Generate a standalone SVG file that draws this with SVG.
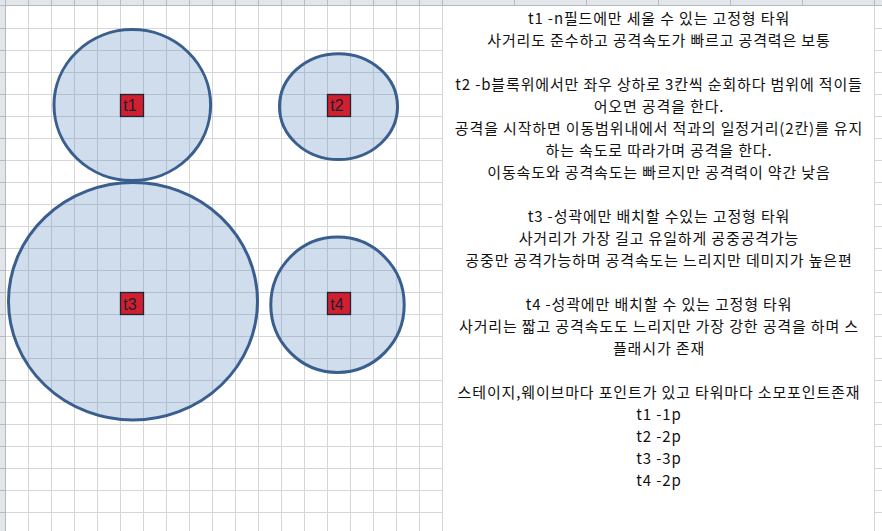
<svg xmlns="http://www.w3.org/2000/svg" width="882" height="531" viewBox="0 0 882 531">
<style>
.grid{stroke:#d6d6d6;stroke-width:1;fill:none}
.hdr{fill:#e2e5ea}
.hdrline{stroke:#b4bac2;stroke-width:1;fill:none}
.range{fill:#4f81bd;fill-opacity:0.27;stroke:#3a5f8e;stroke-width:3}
.tag{fill:#d21f30;stroke:#1b2535;stroke-width:1.3}
.tagtxt{font-family:"Liberation Sans",Arial,sans-serif;font-size:16px;fill:#1a1f2e}
.desc{font-family:"Noto Sans CJK KR","Noto Sans",sans-serif;font-size:15px;letter-spacing:0.85px;fill:#111;text-anchor:middle}
</style>
<rect x="0" y="0" width="882" height="531" fill="#ffffff"/>
<g id="grid">
<path class="grid" d="M28.5 6V531M51.5 6V531M74.5 6V531M97.5 6V531M120.5 6V531M143.5 6V531M166.5 6V531M189.5 6V531M212.5 6V531M235.5 6V531M258.5 6V531M281.5 6V531M304.5 6V531M327.5 6V531M350.5 6V531M373.5 6V531M396.5 6V531M419.5 6V531M442.5 6V531M874.5 6V531"/>
<path class="grid" d="M6 28.5H442.5M6 50.5H442.5M6 72.5H442.5M6 94.5H442.5M6 116.5H442.5M6 138.5H442.5M6 160.5H442.5M6 182.5H442.5M6 204.5H442.5M6 226.5H442.5M6 248.5H442.5M6 270.5H442.5M6 292.5H442.5M6 314.5H442.5M6 336.5H442.5M6 358.5H442.5M6 380.5H442.5M6 402.5H442.5M6 424.5H442.5M6 446.5H442.5M6 468.5H442.5M6 490.5H442.5M6 512.5H442.5"/>
<path class="grid" d="M874.5 28.5H882M874.5 50.5H882M874.5 72.5H882M874.5 94.5H882M874.5 116.5H882M874.5 138.5H882M874.5 160.5H882M874.5 182.5H882M874.5 204.5H882M874.5 226.5H882M874.5 248.5H882M874.5 270.5H882M874.5 292.5H882M874.5 314.5H882M874.5 336.5H882M874.5 358.5H882M874.5 380.5H882M874.5 402.5H882M874.5 424.5H882M874.5 446.5H882M874.5 468.5H882M874.5 490.5H882M874.5 512.5H882"/>
</g>
<g id="headers">
<rect class="hdr" x="0" y="0" width="882" height="6"/>
<rect class="hdr" x="0" y="0" width="5.5" height="531"/>
<path class="hdrline" d="M0 5.5H882M5.5 0V531"/>
<path class="hdrline" d="M28.5 0V5.5M51.5 0V5.5M74.5 0V5.5M97.5 0V5.5M120.5 0V5.5M143.5 0V5.5M166.5 0V5.5M189.5 0V5.5M212.5 0V5.5M235.5 0V5.5M258.5 0V5.5M281.5 0V5.5M304.5 0V5.5M327.5 0V5.5M350.5 0V5.5M373.5 0V5.5M396.5 0V5.5M419.5 0V5.5M442.5 0V5.5M514.5 0V5.5M586.5 0V5.5M658.5 0V5.5M730.5 0V5.5M802.5 0V5.5M874.5 0V5.5"/>
<path class="hdrline" d="M0 28.5H5.5M0 50.5H5.5M0 72.5H5.5M0 94.5H5.5M0 116.5H5.5M0 138.5H5.5M0 160.5H5.5M0 182.5H5.5M0 204.5H5.5M0 226.5H5.5M0 248.5H5.5M0 270.5H5.5M0 292.5H5.5M0 314.5H5.5M0 336.5H5.5M0 358.5H5.5M0 380.5H5.5M0 402.5H5.5M0 424.5H5.5M0 446.5H5.5M0 468.5H5.5M0 490.5H5.5M0 512.5H5.5"/>
</g>
<g id="t1">
<ellipse class="range" cx="132.3" cy="105.1" rx="78.3" ry="75.5"/>
<rect class="tag" x="120.5" y="94.5" width="23" height="22"/>
<text class="tagtxt" x="123.2" y="111">t1</text>
</g>
<g id="t2">
<ellipse class="range" cx="338.5" cy="106.6" rx="59" ry="52.9"/>
<rect class="tag" x="327.5" y="94.5" width="23" height="22"/>
<text class="tagtxt" x="330.2" y="111">t2</text>
</g>
<g id="t3">
<ellipse class="range" cx="133" cy="301.3" rx="124.5" ry="118.7"/>
<rect class="tag" x="120.5" y="292.5" width="23" height="22"/>
<text class="tagtxt" x="123.2" y="309.5">t3</text>
</g>
<g id="t4">
<ellipse class="range" cx="337.5" cy="304.8" rx="66.7" ry="67.7"/>
<rect class="tag" x="327.5" y="292.5" width="23" height="22"/>
<text class="tagtxt" x="330.2" y="309.5">t4</text>
</g>
<g id="connectors"></g>
<g id="description">
<text class="desc" x="659" y="24">t1 -n필드에만 세울 수 있는 고정형 타워</text>
<text class="desc" x="659" y="46">사거리도 준수하고 공격속도가 빠르고 공격력은 보통</text>
<text class="desc" x="659" y="90">t2 -b블록위에서만 좌우 상하로 3칸씩 순회하다 범위에 적이들</text>
<text class="desc" x="659" y="112">어오면 공격을 한다.</text>
<text class="desc" x="659" y="134">공격을 시작하면 이동범위내에서 적과의 일정거리(2칸)를 유지</text>
<text class="desc" x="659" y="156">하는 속도로 따라가며 공격을 한다.</text>
<text class="desc" x="659" y="178">이동속도와 공격속도는 빠르지만 공격력이 약간 낮음</text>
<text class="desc" x="659" y="222">t3 -성곽에만 배치할 수있는 고정형 타워</text>
<text class="desc" x="659" y="244">사거리가 가장 길고 유일하게 공중공격가능</text>
<text class="desc" x="659" y="266">공중만 공격가능하며 공격속도는 느리지만 데미지가 높은편</text>
<text class="desc" x="659" y="310">t4 -성곽에만 배치할 수 있는 고정형 타워</text>
<text class="desc" x="659" y="332">사거리는 짧고 공격속도도 느리지만 가장 강한 공격을 하며 스</text>
<text class="desc" x="659" y="354">플래시가 존재</text>
<text class="desc" x="659" y="398">스테이지,웨이브마다 포인트가 있고 타워마다 소모포인트존재</text>
<text class="desc" x="659" y="420">t1 -1p</text>
<text class="desc" x="659" y="442">t2 -2p</text>
<text class="desc" x="659" y="464">t3 -3p</text>
<text class="desc" x="659" y="486">t4 -2p</text>
</g>
</svg>
